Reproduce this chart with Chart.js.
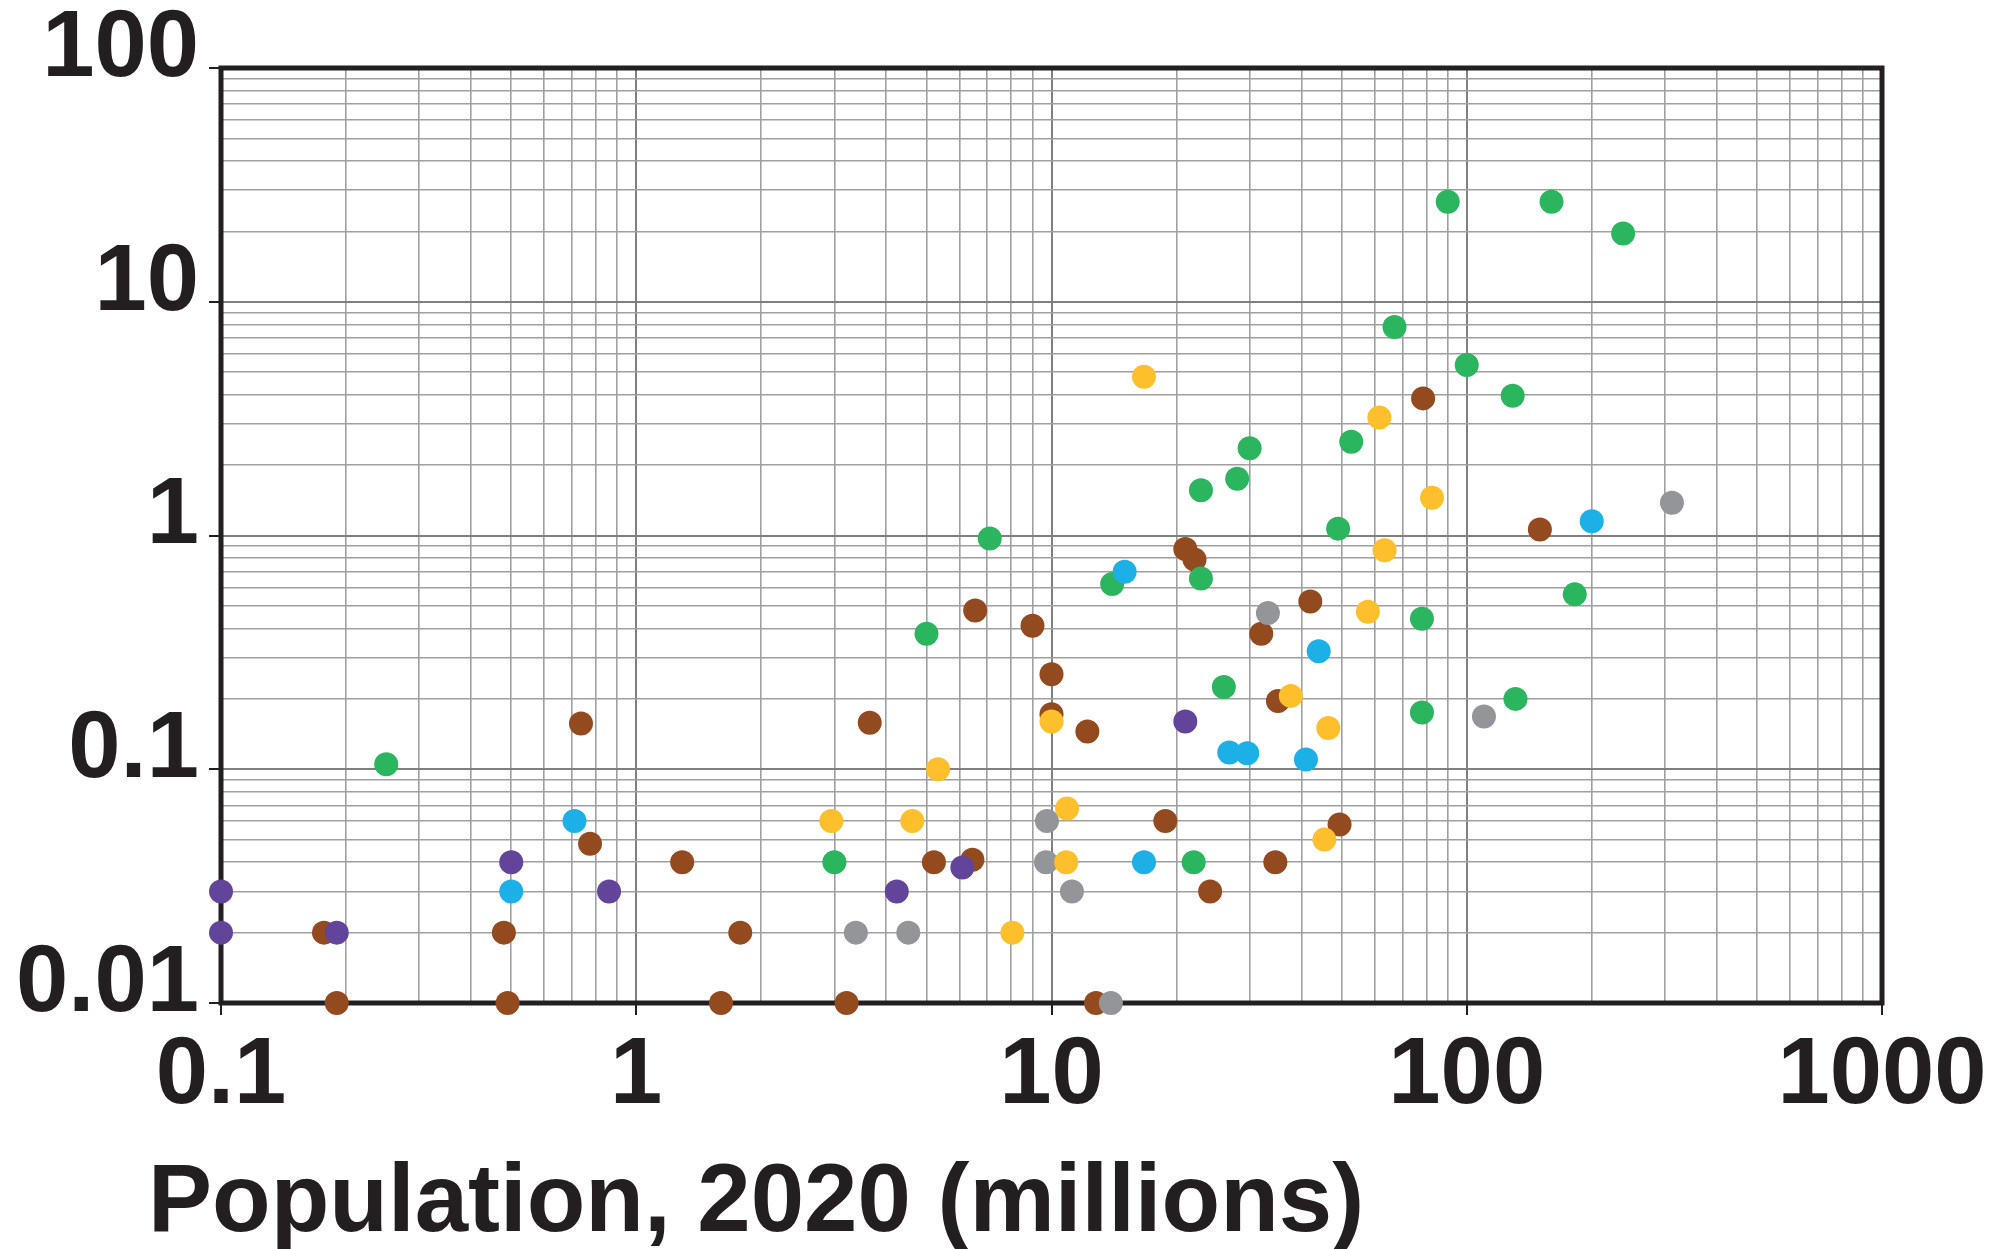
<!DOCTYPE html>
<html lang="en">
<head>
<meta charset="UTF-8">
<title>Population, 2020 (millions)</title>
<script src="https://cdn.jsdelivr.net/npm/chart.js"></script>
<style>
    body {
        margin: 0;
        background: #ffffff;
    }
    canvas {
        display: block;
    }
</style>
</head>
<body>
<canvas id="popChart" width="2009" height="1249"></canvas>
<script>
    // decade tick labels on each axis
    const xTickLabels = ['0.1', '1', '10', '100', '1000'];
    const yTickLabels = ['0.01', '0.1', '1', '10', '100'];
    const xTitle = 'Population, 2020 (millions)';

    // points per colour group: population (millions) and value
    const bluePop = [15, 200, 44, 26.8, 29.6, 41, 16.7, 0.71, 0.5];
    const blueVal = [0.7, 1.15, 0.32, 0.118, 0.117, 0.11, 0.04, 0.06, 0.03];

    const greenPop = [0.25, 7.1, 5.0, 14, 3.0, 22.9, 22.9, 28, 30, 26, 22, 49, 52.7, 67, 90, 100, 129, 160, 238, 78, 78, 131, 182];
    const greenVal = [0.105, 0.97, 0.38, 0.62, 0.04, 1.56, 0.655, 1.75, 2.36, 0.225, 0.04, 1.07, 2.52, 7.8, 26.8, 5.36, 3.96, 26.8, 19.6, 0.44, 0.175, 0.2, 0.56];

    const yellowPop = [16.7, 61.6, 82.5, 63.4, 57.8, 37.7, 46.4, 45.4, 10, 5.33, 2.95, 4.62, 10.9, 10.85, 8.05];
    const yellowVal = [4.78, 3.2, 1.45, 0.864, 0.472, 0.206, 0.15, 0.05, 0.16, 0.1, 0.06, 0.06, 0.068, 0.04, 0.02];

    const purplePop = [0.1, 0.1, 0.19, 0.5, 0.86, 4.24, 6.1, 21];
    const purpleVal = [0.03, 0.02, 0.02, 0.04, 0.03, 0.03, 0.038, 0.16];

    const greyPop = [312, 33.2, 110, 9.75, 9.7, 11.2, 3.38, 4.52, 13.9];
    const greyVal = [1.38, 0.466, 0.168, 0.06, 0.04, 0.03, 0.02, 0.02, 0.01];

    const brownPop = [78.5, 150, 21, 22.1, 6.55, 9.0, 42, 32, 10, 10, 35.1, 12.2, 3.65, 0.736, 18.8, 49.4, 0.774, 1.29, 5.21, 6.45, 34.6, 24.1, 0.177, 0.48, 1.78, 0.19, 0.49, 1.6, 3.21, 12.8];
    const brownVal = [3.86, 1.06, 0.875, 0.79, 0.478, 0.411, 0.522, 0.38, 0.255, 0.172, 0.196, 0.145, 0.158, 0.157, 0.06, 0.058, 0.048, 0.04, 0.04, 0.041, 0.04, 0.03, 0.02, 0.02, 0.02, 0.01, 0.01, 0.01, 0.01, 0.01];

    const ink = '#231f20';

    function toPoints(xs, ys) {
        return xs.map((x, i) => ({ x: x, y: ys[i] }));
    }

    // grid lines at 1..9 of every decade, last decade on its own
    function decadeTicks(labels) {
        const decades = labels.map(Number);
        const ticks = [];
        decades.forEach((d, i) => {
            if (i === decades.length - 1) {
                ticks.push({ value: d });
                return;
            }
            for (let m = 1; m <= 9; m++) {
                ticks.push({ value: Number((m * d).toPrecision(3)) });
            }
        });
        return ticks;
    }

    function isDecade(labels, value) {
        return labels.some(l => Number(l) === value);
    }

    function decadeLabel(labels, value) {
        const found = labels.find(l => Number(l) === value);
        return found === undefined ? '' : found;
    }

    // thick frame round the plot, under the points
    const framePlugin = {
        id: 'frame',
        beforeDatasetsDraw(chart) {
            const a = chart.chartArea;
            const ctx = chart.ctx;
            ctx.save();
            ctx.strokeStyle = ink;
            ctx.lineWidth = 5;
            ctx.strokeRect(a.left, a.top, a.right - a.left, a.bottom - a.top);
            ctx.restore();
        }
    };

    // x axis title, set left like the original
    const titlePlugin = {
        id: 'xTitle',
        afterDraw(chart) {
            const ctx = chart.ctx;
            ctx.save();
            ctx.font = 'bold 96px "Liberation Sans", Arial, sans-serif';
            ctx.fillStyle = ink;
            ctx.textAlign = 'left';
            ctx.textBaseline = 'alphabetic';
            ctx.fillText(xTitle, 148, 1231);
            ctx.restore();
        }
    };

    const groups = [
        { label: 'blue', pop: bluePop, val: blueVal, color: '#1cb0e6' },
        { label: 'green', pop: greenPop, val: greenVal, color: '#2bb55e' },
        { label: 'yellow', pop: yellowPop, val: yellowVal, color: '#fdbf2c' },
        { label: 'purple', pop: purplePop, val: purpleVal, color: '#63449b' },
        { label: 'grey', pop: greyPop, val: greyVal, color: '#939598' },
        { label: 'brown', pop: brownPop, val: brownVal, color: '#944a1f' }
    ];

    const tickFont = { family: '"Liberation Sans", Arial, sans-serif', size: 94, weight: 'bold', lineHeight: 1.2 };

    function gridColor(labels) {
        return ctx => isDecade(labels, ctx.tick.value) ? '#808080' : '#a0a0a0';
    }
    function gridWidth(labels) {
        return ctx => isDecade(labels, ctx.tick.value) ? 2 : 1.6;
    }
    function tickColor(labels) {
        return ctx => isDecade(labels, ctx.tick.value) ? ink : 'rgba(0,0,0,0)';
    }

    new Chart(document.getElementById('popChart').getContext('2d'), {
        type: 'scatter',
        data: {
            datasets: groups.map(g => ({
                label: g.label,
                data: toPoints(g.pop, g.val),
                backgroundColor: g.color,
                pointRadius: 12,
                pointHoverRadius: 12,
                pointBorderWidth: 0,
                borderWidth: 0,
                clip: false
            }))
        },
        options: {
            responsive: false,
            animation: false,
            devicePixelRatio: 1,
            layout: { padding: { left: 0, top: 68, right: 127, bottom: 0 } },
            plugins: {
                legend: { display: false },
                tooltip: { enabled: false }
            },
            scales: {
                x: {
                    type: 'logarithmic',
                    min: 0.1,
                    max: 1000,
                    afterBuildTicks: scale => { scale.ticks = decadeTicks(xTickLabels); },
                    afterFit: scale => { scale.height = 246; },
                    border: { display: false },
                    grid: {
                        color: gridColor(xTickLabels),
                        lineWidth: gridWidth(xTickLabels),
                        tickColor: tickColor(xTickLabels),
                        tickWidth: 2,
                        tickLength: 12
                    },
                    ticks: {
                        autoSkip: false,
                        maxRotation: 0,
                        padding: 6,
                        color: ink,
                        font: tickFont,
                        callback: value => decadeLabel(xTickLabels, value)
                    }
                },
                y: {
                    type: 'logarithmic',
                    min: 0.01,
                    max: 100,
                    afterBuildTicks: scale => { scale.ticks = decadeTicks(yTickLabels); },
                    afterFit: scale => { scale.width = 221; },
                    border: { display: false },
                    grid: {
                        color: gridColor(yTickLabels),
                        lineWidth: gridWidth(yTickLabels),
                        tickColor: tickColor(yTickLabels),
                        tickWidth: 2,
                        tickLength: 12
                    },
                    ticks: {
                        autoSkip: false,
                        padding: 10,
                        labelOffset: -18,
                        color: ink,
                        font: tickFont,
                        callback: value => decadeLabel(yTickLabels, value)
                    }
                }
            }
        },
        plugins: [framePlugin, titlePlugin]
    });
</script>
</body>
</html>
